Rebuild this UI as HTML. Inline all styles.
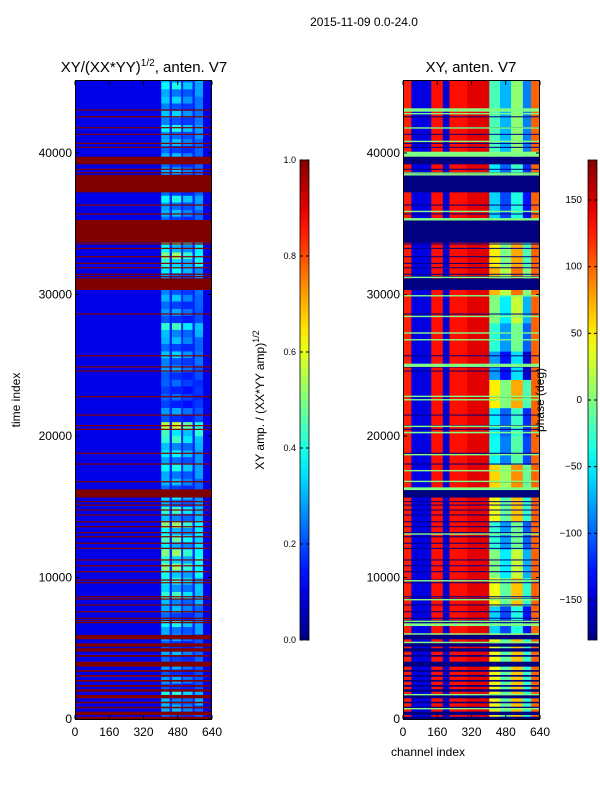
<!DOCTYPE html>
<html><head><meta charset="utf-8">
<style>
html,body{margin:0;padding:0;background:#fff;}
svg{display:block;font-family:"Liberation Sans",sans-serif;}
</style></head>
<body>
<svg id="fig" width="600" height="800" viewBox="0 0 600 800">
<defs>
<clipPath id="clipL"><rect x="75" y="80" width="137" height="640"/></clipPath>
<clipPath id="clipR"><rect x="403" y="80" width="137" height="640"/></clipPath>
<linearGradient id="gradL" x1="0" y1="1" x2="0" y2="0"></linearGradient>
</defs>
<text x="364" y="26" font-size="12" text-anchor="middle">2015-11-09 0.0-24.0</text>
<text x="144" y="72" font-size="15" text-anchor="middle">XY/(XX*YY)<tspan font-size="10" dy="-6">1/2</tspan><tspan dy="6">, anten. V7</tspan></text>
<text x="471" y="72" font-size="15" text-anchor="middle">XY, anten. V7</text>
<g id="heatL" clip-path="url(#clipL)"></g>
<g id="heatR" clip-path="url(#clipR)"></g>
<g id="axes"></g>
<text transform="translate(20,400) rotate(-90)" font-size="12" text-anchor="middle">time index</text>
<text x="428" y="756" font-size="12" text-anchor="middle">channel index</text>
<text transform="translate(264,400) rotate(-90)" font-size="12" text-anchor="middle">XY amp. / (XX*YY amp)<tspan font-size="9" dy="-5">1/2</tspan></text>
<text transform="translate(544,400) rotate(-90)" font-size="12" text-anchor="middle">phase (deg)</text>
</svg>
<script>
// ---- data ----
const xTicks = [0,160,320,480,640];
const yTicks = [0,10000,20000,30000,40000];
const ampTicks = [0.0,0.2,0.4,0.6,0.8,1.0];
const phaseTicks = [-150,-100,-50,0,50,100,150];
// per 1000-time block (from t=0 upward): strip amplitude, upper and lower half
const stripAmpHi = [0.3,0.4,0.28,0.28,0.3,0.28,0.38,0.3,0.42,0.4,0.5,0.5,0.45,0.5,0.42,0.35,0.3,0.38,0.36,0.42,0.55,0.28,0.22,0.22,0.28,0.32,0.3,0.42,0.28,0.3,0.32,0.36,0.5,0.45,0.3,0.3,0.38,0.3,0.3,0.3,0.3,0.38,0.32,0.32,0.38,0.38];
const stripAmpLo = [0.22,0.3,0.2,0.2,0.22,0.2,0.28,0.22,0.3,0.32,0.38,0.4,0.35,0.36,0.3,0.28,0.22,0.28,0.27,0.3,0.42,0.2,0.18,0.18,0.2,0.24,0.22,0.3,0.2,0.22,0.24,0.27,0.4,0.36,0.22,0.22,0.27,0.22,0.22,0.22,0.22,0.27,0.24,0.24,0.28,0.3];
// channel ranges of hot strips and relative factor
const stripStart = [403,453,505,560];
const stripEnd = [442,496,549,598];
const stripFactor = [1.0,1.05,0.85,0.75];
const gapAmp = 0.16;
const baseAmp = 0.1;
// right panel: per 2000-time block mid-region phase
const midPhase = [40,40,40,-60,40,0,-30,40,60,-40,-50,50,-80,-30,0,70,50,-60,-60,-50,-20,-20,-20];
const midOffset = [0,-50,25,-70];
// right panel fixed column bands
const colStart = [0,39,132,186,217,300,597];
const colEnd = [39,132,186,217,300,403,640];
const colPhase = [125,-145,130,-150,130,145,100];
// flagged (amp = 1 / phase = -180) time ranges
const flagStart = [39200,37220,33660,30320,15650,5630,5110,4760,4400,3700,3340,2990,2640,2280,1930,1460,1110,750,280,0];
const flagEnd = [39740,38450,35270,31140,16230,5940,5350,5000,4520,4050,3460,3110,2760,2400,2100,1700,1220,870,520,160];
// thin flagged lines (time)
const lineTimes = [43040,42560,41790,41320,40680,40400,38850,38610,36320,35690,33570,33260,32670,32200,31890,31430,31260,28620,25670,24880,24590,22780,21480,20730,20470,18780,18020,16770,15360,15120,14770,14420,13940,13590,13170,12880,12420,12060,11240,10830,10410,9820,9630,8640,8480,8060,7580,7120,6950,6810];
// green (phase ~0) lines in right panel
const greenStart = [42920,42760,41750,40800,39740,38560,38440,35850,35330,35260,31190,29890,28430,27260,26780,24880,22780,22540,20660,20190,18660,17530,16770,16180,13050,9750,8410,6880,6570,5990,5390,1700,710];
const greenEnd = [43160,42830,41820,40870,40090,38630,38510,35920,35400,35330,31260,29960,28500,27330,26850,25110,22850,22610,20730,20300,18730,17600,16840,16370,13120,9820,8480,6950,6760,6060,5460,1770,780];

// ---- scales ----
const T_MAX = 45160;
function yT(t){ return 719 - t*(639/T_MAX); }
function xL(c){ return 75 + c/640*137; }
function xR(c){ return 403 + c/640*137; }
function jet(v){
  v=Math.max(0,Math.min(1,v));
  function f(x){ return Math.max(0,Math.min(1,x)); }
  const r=f(Math.min(4*v-1.5,-4*v+4.5)), g=f(Math.min(4*v-0.5,-4*v+3.5)), b=f(Math.min(4*v+0.5,-4*v+2.5));
  return `rgb(${Math.round(r*255)},${Math.round(g*255)},${Math.round(b*255)})`;
}
function ph(p){ return jet((p+180)/360); }
const NS="http://www.w3.org/2000/svg";
function rect(parent,x,y,w,h,fill){
  const r=document.createElementNS(NS,'rect');
  r.setAttribute('x',x);r.setAttribute('y',y);r.setAttribute('width',w);r.setAttribute('height',h);r.setAttribute('fill',fill);
  parent.appendChild(r); return r;
}
const gL=document.getElementById('heatL'), gR=document.getElementById('heatR'), ax=document.getElementById('axes');

// left base
let el=rect(gL,75,80,137,640,jet(baseAmp));


let gp=rect(gL,xL(403),80,xL(598)-xL(403),640,jet(gapAmp));


stripAmpHi.forEach((a,b)=>{
  const t0=b*1000,tm=t0+500,t1=Math.min(T_MAX,t0+1000);
  const lo=stripAmpLo[b];
  stripStart.forEach((s,i)=>{
    const c=rect(gL,xL(s),yT(t1),xL(stripEnd[i])-xL(s),yT(tm)-yT(t1)+0.3,jet(a*stripFactor[i]));
    
    
    const d=rect(gL,xL(s),yT(tm),xL(stripEnd[i])-xL(s),yT(t0)-yT(tm)+0.3,jet(lo*stripFactor[(i+1)%4]));
    
    
  });
});
// right base
const nB=Math.ceil(T_MAX/2000);
for(let b=0;b<nB;b++){
  const t0=b*2000,t1=Math.min(T_MAX,t0+2000);
  colStart.forEach((s,i)=>{
    const c=rect(gR,xR(s),yT(t1),xR(colEnd[i])-xR(s)+0.3,yT(t0)-yT(t1)+0.5,ph(colPhase[i]));
    
    
  });
  const m=midPhase[b%midPhase.length];
  stripStart.forEach((s,i)=>{
    const e=i<3?stripStart[i+1]:597;
    const c=rect(gR,xR(s),yT(t1),xR(e)-xR(s)+0.3,yT(t0)-yT(t1)+0.5,ph(Math.max(-179,Math.min(179,m+midOffset[i]))));
    
    
  });
}
// flags
flagStart.forEach((s,i)=>{
  const h=yT(s)-yT(flagEnd[i]);
  const a=rect(gL,75,yT(flagEnd[i]),137,h,jet(1));
  
  
  const p=rect(gR,403,yT(flagEnd[i]),137,h,ph(-180));
  
  
});
lineTimes.forEach(t=>{
  const a=rect(gL,75,yT(t)-0.6,137,1.2,jet(1));
  
  
  const p=rect(gR,403,yT(t)-0.5,137,1.0,ph(-180));
  
  
});
greenStart.forEach((s,i)=>{
  const p=rect(gR,403,yT(greenEnd[i]),137,Math.max(1.4,yT(s)-yT(greenEnd[i])),ph(0));
  
  
});

// axes frames and ticks
function line(x1,y1,x2,y2){
  const l=document.createElementNS(NS,'line');
  l.setAttribute('x1',x1);l.setAttribute('y1',y1);l.setAttribute('x2',x2);l.setAttribute('y2',y2);
  l.setAttribute('stroke','#000');l.setAttribute('stroke-width','1');ax.appendChild(l);return l;
}
function text(x,y,s,anchor){
  const t=document.createElementNS(NS,'text');
  t.setAttribute('x',x);t.setAttribute('y',y);t.setAttribute('font-size','12');t.setAttribute('text-anchor',anchor);
  t.textContent=s;ax.appendChild(t);return t;
}
[[75,xL],[403,xR]].forEach(([x0,xf],k)=>{
  const fr=document.createElementNS(NS,'rect');
  fr.setAttribute('x',x0+0.5);fr.setAttribute('y',80.5);fr.setAttribute('width',136);fr.setAttribute('height',639);
  fr.setAttribute('fill','none');fr.setAttribute('stroke','#000');
  
  
  ax.appendChild(fr);
  xTicks.forEach(v=>{
    const x=xf(v);
    line(x,719,x,715);line(x,81,x,85);
    const t=text(x,736,String(v),'middle');
    
    
  });
  yTicks.forEach(v=>{
    const y=yT(v);
    line(x0,y,x0+4,y);line(x0+137,y,x0+133,y);
    const t=text(x0-3,y+4,String(v),'end');
    
    
  });
});
// colorbars
const grad=document.getElementById('gradL');
for(let i=0;i<=20;i++){
  const s=document.createElementNS(NS,'stop');
  s.setAttribute('offset',(i/20));s.setAttribute('stop-color',jet(i/20));grad.appendChild(s);
}
[[300,'amp-colorbar'],[588,'phase-colorbar']].forEach(([x,n])=>{
  const r=rect(ax,x,160,9,480,'url(#gradL)');
  r.setAttribute('stroke','#000');r.setAttribute('stroke-width','0.8');
  
  
});
ampTicks.forEach(v=>{
  const y=640-v*480;
  line(300,y,303,y);line(309,y,306,y);
  const t=text(296,y+3,v.toFixed(1),'end');t.setAttribute('font-size','9');
  
  
});
phaseTicks.forEach(v=>{
  const y=400-v*(480/360);
  line(588,y,591,y);line(597,y,594,y);
  const t=text(582,y+3,String(v).replace('-','\u2212'),'end');t.setAttribute('font-size','10');
  
  
});
</script>
</body></html>
